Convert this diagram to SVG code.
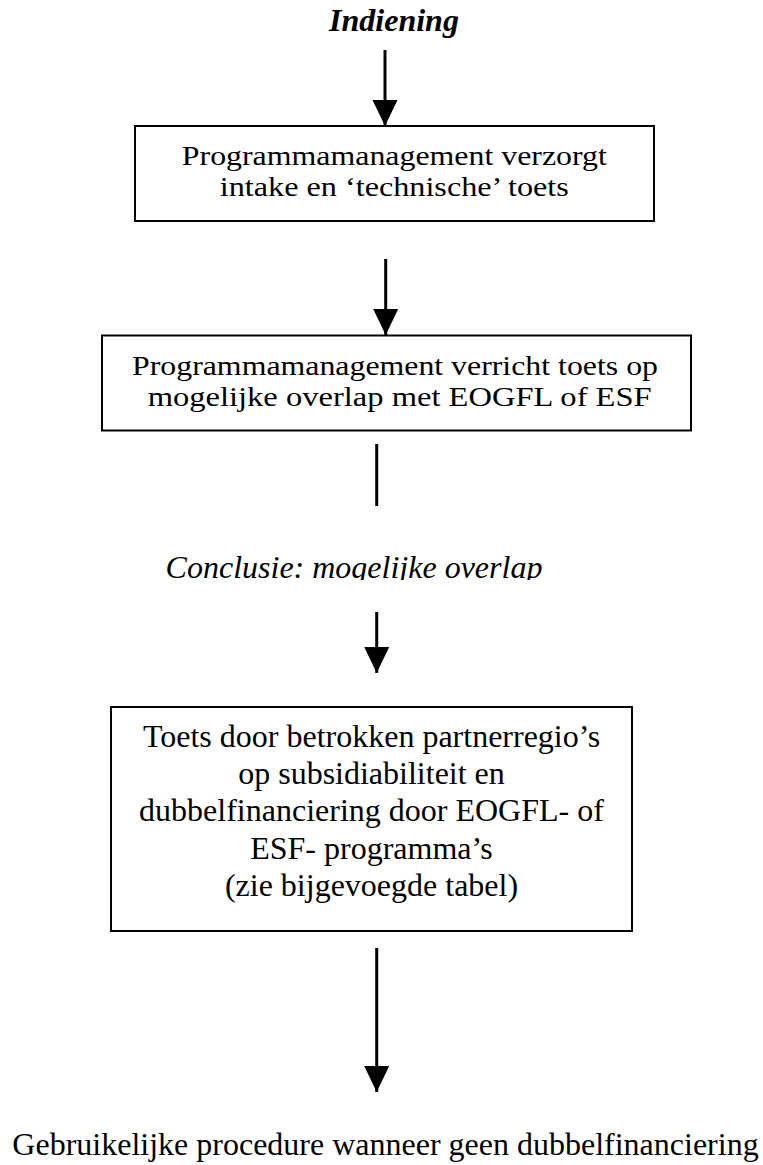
<svg xmlns="http://www.w3.org/2000/svg" width="763" height="1165" viewBox="0 0 763 1165">
<style>
.t{font-family:"Liberation Serif","Times New Roman",serif;font-size:32px;fill:#000;text-anchor:middle}
.s{font-size:28px}
.bi{font-weight:bold;font-style:italic}
.i{font-style:italic}
.box{fill:#fff;stroke:#000;stroke-width:2}
.ln{stroke:#000;stroke-width:3;fill:none}
</style>
<defs>
<marker id="ah" markerUnits="userSpaceOnUse" markerWidth="27" markerHeight="26" refX="26" refY="13" orient="auto" viewBox="0 0 27 26">
<path d="M0,0.5 L26,13 L0,25.5 Z" fill="#000"/>
</marker>
<clipPath id="cc"><rect x="0" y="540" width="763" height="40"/></clipPath>
</defs>
<rect width="763" height="1165" fill="#fff"/>
<g id="connectors">
<line class="ln" x1="385" y1="50" x2="385" y2="126" marker-end="url(#ah)"/>
<line class="ln" x1="385.7" y1="259" x2="385.7" y2="335" marker-end="url(#ah)"/>
<line class="ln" x1="376.7" y1="444" x2="376.7" y2="506"/>
<line class="ln" x1="376.7" y1="612" x2="376.7" y2="673" marker-end="url(#ah)"/>
<line class="ln" x1="376.7" y1="948" x2="376.7" y2="1092" marker-end="url(#ah)"/>
</g>
<g id="indiening">
<text class="t bi" x="394" y="31">Indiening</text>
</g>
<g id="box1">
<rect class="box" x="135" y="126" width="519" height="95"/>
<text class="t s" x="394.3" y="165" textLength="425" lengthAdjust="spacingAndGlyphs">Programmamanagement verzorgt</text>
<text class="t s" x="394.3" y="196" textLength="349" lengthAdjust="spacingAndGlyphs">intake en ‘technische’ toets</text>
</g>
<g id="box2">
<rect class="box" x="102" y="335.5" width="589" height="95"/>
<text class="t s" x="395" y="375" textLength="526" lengthAdjust="spacingAndGlyphs">Programmamanagement verricht toets op</text>
<text class="t s" x="399.7" y="406" textLength="504" lengthAdjust="spacingAndGlyphs">mogelijke overlap met EOGFL of ESF</text>
</g>
<g id="conclusie">
<text class="t i" x="354" y="578" clip-path="url(#cc)">Conclusie: mogelijke overlap</text>
</g>
<g id="box3">
<rect class="box" x="111" y="707" width="521" height="224"/>
<text class="t" x="371.5" y="746.5">Toets door betrokken partnerregio’s</text>
<text class="t" x="371.5" y="784">op subsidiabiliteit en</text>
<text class="t" x="371.5" y="821">dubbelfinanciering door EOGFL- of</text>
<text class="t" x="371.5" y="858.5">ESF- programma’s</text>
<text class="t" x="371.5" y="896">(zie bijgevoegde tabel)</text>
</g>
<g id="gebruikelijke">
<text class="t" x="385.5" y="1155">Gebruikelijke procedure wanneer geen dubbelfinanciering</text>
</g>
</svg>
